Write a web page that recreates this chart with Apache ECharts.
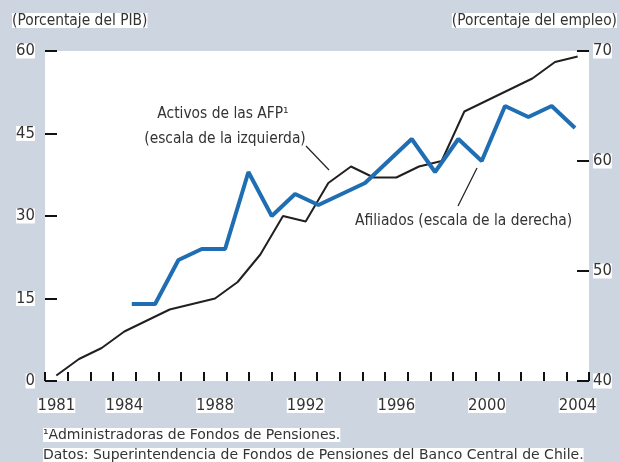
<!DOCTYPE html>
<html>
<head>
<meta charset="utf-8">
<script src="https://cdn.jsdelivr.net/npm/echarts@6/dist/echarts.min.js"></script>
<style>
  html, body { margin: 0; padding: 0; background: #cdd5e1; }
  #chart { width: 619px; height: 462px; }
</style>
</head>
<body>
<div id="chart"></div>
<script>
// Activos de las AFP, % del PIB (escala izquierda), un valor por año
const years = ['1981','1982','1983','1984','1985','1986','1987','1988','1989','1990','1991','1992',
               '1993','1994','1995','1996','1997','1998','1999','2000','2001','2002','2003','2004'];
const assets = [1, 4, 6, 9, 11, 13, 14, 15, 18, 23, 30, 29, 36, 39, 37, 37, 39, 40, 49, 51, 53, 55, 58, 59];

// Afiliados, % del empleo (escala derecha)
const memberYears = [1985,1986,1987,1988,1989,1990,1991,1992,1993,1994,
                     1995,1996,1997,1998,1999,2000,2001,2002,2003,2004];
const members = [47, 47, 51, 52, 52, 59, 55, 57, 56, 57, 58, 60, 62, 59, 62, 60, 65, 64, 65, 63];

const shownYears = ['1981','1984','1988','1992','1996','2000','2004'];
const leftTicks = { min: 0, max: 60, step: 15 };
const rightTicks = { min: 40, max: 70, step: 10 };

const narrow = "'DejaVu Sans Condensed', 'Liberation Sans Narrow', sans-serif";
const ink = '#333';

const chart = echarts.init(document.getElementById('chart'), null, { renderer: 'canvas' });

const tickLabel = { color: ink, fontSize: 16.5, fontFamily: narrow, backgroundColor: '#fff', lineHeight: 15 };

chart.setOption({
  backgroundColor: '#cdd5e1',
  animation: false,
  grid: { left: 45, right: 30, top: 51, bottom: 81, show: true, backgroundColor: '#fff', borderWidth: 0 },
  xAxis: [
    {
      type: 'category', data: years, boundaryGap: true,
      axisLine: { show: false },
      axisTick: { show: true, inside: true, length: 9, interval: 0, lineStyle: { color: '#111', width: 2 } },
      axisLabel: { ...tickLabel, margin: 17, interval: (i, v) => shownYears.includes(v) },
      splitLine: { show: false }
    },
    // eje oculto para los afiliados, cuyos puntos caen desplazados respecto de los años
    { type: 'value', min: 1981.28, max: 2004.6, show: false }
  ],
  yAxis: [
    {
      type: 'value', min: leftTicks.min, max: leftTicks.max, interval: leftTicks.step,
      axisLine: { show: false },
      axisTick: { show: true, inside: true, length: 12, lineStyle: { color: '#111', width: 2 } },
      axisLabel: { ...tickLabel, margin: 10 },
      splitLine: { show: false }
    },
    {
      type: 'value', position: 'right', min: rightTicks.min, max: rightTicks.max, interval: rightTicks.step,
      axisLine: { show: false },
      axisTick: { show: true, inside: true, length: 12, lineStyle: { color: '#111', width: 2 } },
      axisLabel: { ...tickLabel, margin: 4 },
      splitLine: { show: false }
    }
  ],
  series: [
    {
      name: 'Activos de las AFP', type: 'line', xAxisIndex: 0, yAxisIndex: 0,
      data: assets, symbol: 'none', z: 2,
      lineStyle: { color: '#231f20', width: 2 }
    },
    {
      name: 'Afiliados', type: 'line', xAxisIndex: 1, yAxisIndex: 1,
      data: memberYears.map((y, i) => [y, members[i]]), symbol: 'none', z: 3,
      lineStyle: { color: '#1f6db3', width: 4 }
    }
  ],
  graphic: [
    { type: 'text', left: 12, top: 13, style: { text: '(Porcentaje del PIB)', font: '15.4px ' + narrow, fill: ink, backgroundColor: '#fff' } },
    { type: 'text', right: 2, top: 13, style: { text: '(Porcentaje del empleo)', font: '15.4px ' + narrow, fill: ink, backgroundColor: '#fff' } },
    { type: 'text', x: 223, y: 114, style: { text: 'Activos de las AFP¹', font: '15.4px ' + narrow, fill: ink, align: 'center', verticalAlign: 'middle' } },
    { type: 'text', x: 225, y: 139, style: { text: '(escala de la izquierda)', font: '15.4px ' + narrow, fill: ink, align: 'center', verticalAlign: 'middle' } },
    { type: 'line', shape: { x1: 306, y1: 146, x2: 329, y2: 170 }, style: { stroke: '#222', lineWidth: 1.2 } },
    { type: 'text', x: 355, y: 221, style: { text: 'Afiliados (escala de la derecha)', font: '15.4px ' + narrow, fill: ink, verticalAlign: 'middle' } },
    { type: 'line', shape: { x1: 458, y1: 206, x2: 477, y2: 168 }, style: { stroke: '#222', lineWidth: 1.2 } },
    { type: 'text', x: 43, y: 435, style: { text: '¹Administradoras de Fondos de Pensiones.', font: '14px "DejaVu Sans", sans-serif', fill: ink, verticalAlign: 'middle', backgroundColor: '#fff' } },
    { type: 'text', x: 43, y: 455, style: { text: 'Datos: Superintendencia de Fondos de Pensiones del Banco Central de Chile.', font: '14px "DejaVu Sans", sans-serif', fill: ink, verticalAlign: 'middle', backgroundColor: '#fff' } }
  ]
});
</script>
</body>
</html>
